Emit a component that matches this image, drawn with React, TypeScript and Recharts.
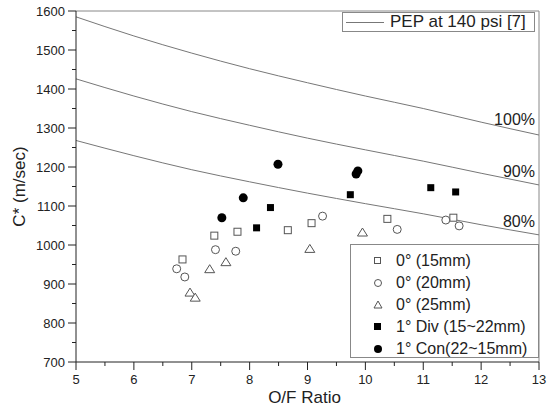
import React from 'react';
import { ComposedChart, Line, Scatter, XAxis, YAxis, ReferenceLine, Label } from 'recharts';

// theoretical C* curves (PEP at 140 psi)
const curveOF = [5, 6, 7, 8, 9, 10, 11, 12, 13];
const pep100 = [1585, 1536, 1492, 1452, 1416, 1382, 1350, 1315, 1282];
const pep90 = [1426, 1382, 1342, 1307, 1274, 1244, 1215, 1184, 1154];
const pep80 = [1268, 1229, 1193, 1162, 1133, 1106, 1080, 1052, 1026];

// measured points
const sq15X = [6.84, 7.39, 7.79, 8.66, 9.07, 10.38, 11.52];
const sq15Y = [963, 1024, 1034, 1038, 1056, 1067, 1070];
const c20X = [6.74, 6.88, 7.41, 7.76, 9.26, 10.55, 11.39, 11.62];
const c20Y = [939, 918, 988, 984, 1074, 1040, 1064, 1049];
const t25X = [6.97, 7.06, 7.31, 7.59, 9.04, 9.95];
const t25Y = [878, 865, 938, 956, 990, 1032];
const divX = [8.12, 8.36, 9.74, 11.13, 11.56];
const divY = [1044, 1096, 1129, 1147, 1136];
const conX = [7.52, 7.89, 8.49, 9.84, 9.87];
const conY = [1070, 1121, 1207, 1182, 1190];

const xTicks = [5, 5.5, 6, 6.5, 7, 7.5, 8, 8.5, 9, 9.5, 10, 10.5, 11, 11.5, 12, 12.5, 13];
const yTicks = [700, 750, 800, 850, 900, 950, 1000, 1050, 1100, 1150, 1200, 1250, 1300, 1350, 1400, 1450, 1500, 1550, 1600];

const FONT = '"Liberation Sans", Arial, sans-serif';

const mk = (xs: number[], ys: number[]) => xs.map((x, i) => ({ of: x, c: ys[i] }));

const XTick = (p: any) => {
  const v = p.payload.value;
  const major = Number.isInteger(v);
  return (
    <g>
      <line x1={p.x} x2={p.x} y1={p.y} y2={p.y + (major ? 8 : 4)} stroke="#222" />
      {major && (
        <text x={p.x} y={p.y + 22} textAnchor="middle" fontSize={13} fontFamily={FONT} fill="#222">
          {v}
        </text>
      )}
    </g>
  );
};

const YTick = (p: any) => {
  const v = p.payload.value;
  const major = v % 100 === 0;
  return (
    <g>
      <line x1={p.x - (major ? 8 : 4)} x2={p.x} y1={p.y} y2={p.y} stroke="#222" />
      {major && (
        <text x={p.x - 11} y={p.y + 5} textAnchor="end" fontSize={13} fontFamily={FONT} fill="#222">
          {v}
        </text>
      )}
    </g>
  );
};

const OpenSquare = (p: any) => <rect x={p.cx - 3.5} y={p.cy - 3.5} width={7} height={7} fill="#fff" stroke="#555" />;
const OpenCircle = (p: any) => <circle cx={p.cx} cy={p.cy} r={4} fill="#fff" stroke="#555" />;
const OpenTri = (p: any) => (
  <path d={`M${p.cx},${p.cy - 4.5}L${p.cx + 5},${p.cy + 3.5}L${p.cx - 5},${p.cy + 3.5}Z`} fill="#fff" stroke="#555" />
);
const FillSquare = (p: any) => <rect x={p.cx - 3.5} y={p.cy - 3.5} width={7} height={7} fill="#000" />;
const FillCircle = (p: any) => <circle cx={p.cx} cy={p.cy} r={4.5} fill="#000" />;

const curveLabel = (txt: string, dy: number) => (p: any) =>
  p.index === curveOF.length - 1 ? (
    <text x={p.x - 4} y={p.y + dy} textAnchor="end" fontSize={16} fontFamily={FONT} fill="#222">
      {txt}
    </text>
  ) : (
    <g />
  );

const legendRows = [
  { sym: 'osq', text: '0° (15mm)' },
  { sym: 'oci', text: '0° (20mm)' },
  { sym: 'otr', text: '0° (25mm)' },
  { sym: 'fsq', text: '1° Div (15~22mm)' },
  { sym: 'fci', text: '1° Con(22~15mm)' },
];

const LegendSym = ({ sym }: { sym: string }) => (
  <svg width={10} height={10} style={{ display: 'block' }}>
    {sym === 'osq' && <rect x={1.5} y={1.5} width={6} height={6} fill="#fff" stroke="#555" />}
    {sym === 'oci' && <circle cx={5} cy={5} r={3.5} fill="#fff" stroke="#555" />}
    {sym === 'otr' && <path d="M5,1L9,8L1,8Z" fill="#fff" stroke="#555" />}
    {sym === 'fsq' && <rect x={1} y={1} width={7} height={7} fill="#000" />}
    {sym === 'fci' && <circle cx={5} cy={5} r={4} fill="#000" />}
  </svg>
);

export default function App() {
  return (
    <div style={{ position: 'absolute', left: 0, top: 0, width: 555, height: 407, background: '#fff' }}>
      <ComposedChart width={555} height={407} margin={{ top: 11, right: 16, left: 0, bottom: 0 }}>
        <XAxis
          type="number"
          dataKey="of"
          domain={[5, 13]}
          ticks={xTicks}
          interval={0}
          allowDataOverflow
          height={45}
          tickSize={0}
          tickMargin={0}
          tick={<XTick />}
          axisLine={{ stroke: '#222' }}
        >
          <Label
            content={({ viewBox }: any) => (
              <text x={viewBox.x + viewBox.width / 2 - 3} y={viewBox.y + 41} textAnchor="middle" fontSize={17} fontFamily={FONT} fill="#222">
                O/F Ratio
              </text>
            )}
          />
        </XAxis>
        <YAxis
          type="number"
          dataKey="c"
          domain={[700, 1600]}
          ticks={yTicks}
          interval={0}
          allowDataOverflow
          width={76}
          tickSize={0}
          tickMargin={0}
          tick={<YTick />}
          axisLine={{ stroke: '#222' }}
        >
          <Label
            content={({ viewBox }: any) => {
              const cx = 19;
              const cy = viewBox.y + viewBox.height / 2;
              return (
                <text x={cx} y={cy} transform={`rotate(-90 ${cx} ${cy})`} textAnchor="middle" dominantBaseline="central" fontSize={17} fontFamily={FONT} fill="#222">
                  C* (m/sec)
                </text>
              );
            }}
          />
        </YAxis>
        <ReferenceLine y={1600} stroke="#888" />
        <ReferenceLine x={13} stroke="#888" />
        <Line data={mk(curveOF, pep100)} dataKey="c" type="monotone" stroke="#777" strokeWidth={1} dot={false} isAnimationActive={false} label={curveLabel('100%', -10)} />
        <Line data={mk(curveOF, pep90)} dataKey="c" type="monotone" stroke="#777" strokeWidth={1} dot={false} isAnimationActive={false} label={curveLabel('90%', -8)} />
        <Line data={mk(curveOF, pep80)} dataKey="c" type="monotone" stroke="#777" strokeWidth={1} dot={false} isAnimationActive={false} label={curveLabel('80%', -8)} />
        <Scatter data={mk(sq15X, sq15Y)} shape={OpenSquare} isAnimationActive={false} />
        <Scatter data={mk(c20X, c20Y)} shape={OpenCircle} isAnimationActive={false} />
        <Scatter data={mk(t25X, t25Y)} shape={OpenTri} isAnimationActive={false} />
        <Scatter data={mk(divX, divY)} shape={FillSquare} isAnimationActive={false} />
        <Scatter data={mk(conX, conY)} shape={FillCircle} isAnimationActive={false} />
      </ComposedChart>

      <div
        style={{
          position: 'absolute', left: 342, top: 12, width: 193, height: 20,
          border: '1px solid #888', background: '#fff', boxSizing: 'border-box',
          display: 'flex', alignItems: 'center', fontFamily: FONT, fontSize: 17, color: '#222',
        }}
      >
        <div style={{ width: 38, height: 0, borderTop: '1px solid #777', marginLeft: 3, marginRight: 6 }} />
        <span style={{ whiteSpace: 'nowrap' }}>PEP at 140 psi [7]</span>
      </div>

      <div
        style={{
          position: 'absolute', left: 350, top: 244, width: 189, height: 114,
          border: '1px solid #888', background: '#fff', boxSizing: 'border-box',
          fontFamily: FONT, fontSize: 16, color: '#222', paddingTop: 5,
        }}
      >
        {legendRows.map((r) => (
          <div key={r.text} style={{ display: 'flex', alignItems: 'center', height: 22 }}>
            <div style={{ width: 10, marginLeft: 22, marginRight: 13 }}>
              <LegendSym sym={r.sym} />
            </div>
            <span style={{ whiteSpace: 'nowrap' }}>{r.text}</span>
          </div>
        ))}
      </div>
    </div>
  );
}
